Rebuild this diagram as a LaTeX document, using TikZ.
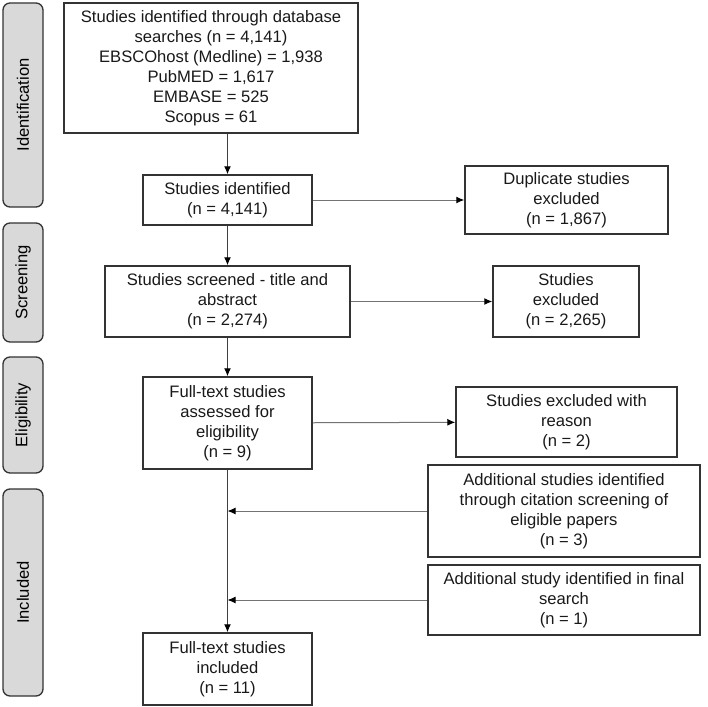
\documentclass[tikz,border=0pt]{standalone}
\usepackage{fontspec}
\setmainfont{Liberation Sans}
\usetikzlibrary{arrows.meta}

\tikzset{
  box/.style={draw=black!80, line width=1.5pt, align=center, inner sep=0pt, text=black!90},
  stage/.style={draw=black!80, fill=gray!30, line width=1.3pt, rounded corners=7pt,
    minimum height=40pt, inner sep=0pt, rotate=90},
  arr/.style={draw=black!75, line width=1pt, -{Latex[length=8pt,width=7pt,color=black]}},
}

\begin{document}
\begin{tikzpicture}[x=1pt,y=-1pt,font=\fontsize{16.6}{20}\selectfont]
\useasboundingbox (0,0) rectangle (708,706);
% stages
 \node[stage,minimum width=204pt] (sIdent) at (23,105) {Identification};
 \node[stage,minimum width=119pt] (sScreen) at (23,282.5) {Screening};
 \node[stage,minimum width=116pt] (sElig) at (23,415) {Eligibility};
 \node[stage,minimum width=207pt] (sIncl) at (23,592.5) {Included};
% main column
 \node[box,minimum width=294pt,minimum height=130pt] (search) at (211,68)
   {Studies identified through database\\searches (n = 4,141)\\EBSCOhost (Medline) = 1,938\\PubMED = 1,617\\EMBASE = 525\\Scopus = 61};
 \node[box,minimum width=169pt,minimum height=50pt] (ident) at (227.5,200)
   {Studies identified\\(n = 4,141)};
 \node[box,minimum width=245pt,minimum height=71pt] (screen) at (227.5,301.5)
   {Studies screened - title and\\abstract\\(n = 2,274)};
 \node[box,minimum width=169pt,minimum height=92pt] (full) at (227.5,423)
   {Full-text studies\\assessed for\\eligibility\\(n = 9)};
 \node[box,minimum width=169pt,minimum height=72pt] (incl) at (227.5,669)
   {Full-text studies\\included\\(n = 11)};
% side boxes
 \node[box,minimum width=203pt,minimum height=68pt] (dup) at (566.5,200)
   {Duplicate studies\\excluded\\(n = 1,867)};
 \node[box,minimum width=146pt,minimum height=71pt] (excl) at (566,301.5)
   {Studies\\excluded\\(n = 2,265)};
 \node[box,minimum width=221pt,minimum height=70pt] (reason) at (566.5,422)
   {Studies excluded with\\reason\\(n = 2)};
 \node[box,minimum width=272pt,minimum height=92pt] (cite) at (564,511)
   {Additional studies identified\\through citation screening of\\eligible papers\\(n = 3)};
 \node[box,minimum width=272pt,minimum height=70pt] (final) at (564,600)
   {Additional study identified in final\\search\\(n = 1)};
% connectors
 \draw[arr] (search.south -| ident.north) -- (ident.north);
 \draw[arr] (ident) -- (screen);
 \draw[arr] (screen) -- (full);
 \draw[arr] (full) -- (incl);
 \draw[arr,draw=black!55] (ident) -- (dup);
 \draw[arr,draw=black!55] (screen) -- (excl);
 \draw[arr,draw=black!55] (full) -- (reason);
 \draw[arr,draw=black!55] (cite.west) -- (cite.west -| full.south);
 \draw[arr,draw=black!55] (final.west) -- (final.west -| full.south);
\end{tikzpicture}
\end{document}
